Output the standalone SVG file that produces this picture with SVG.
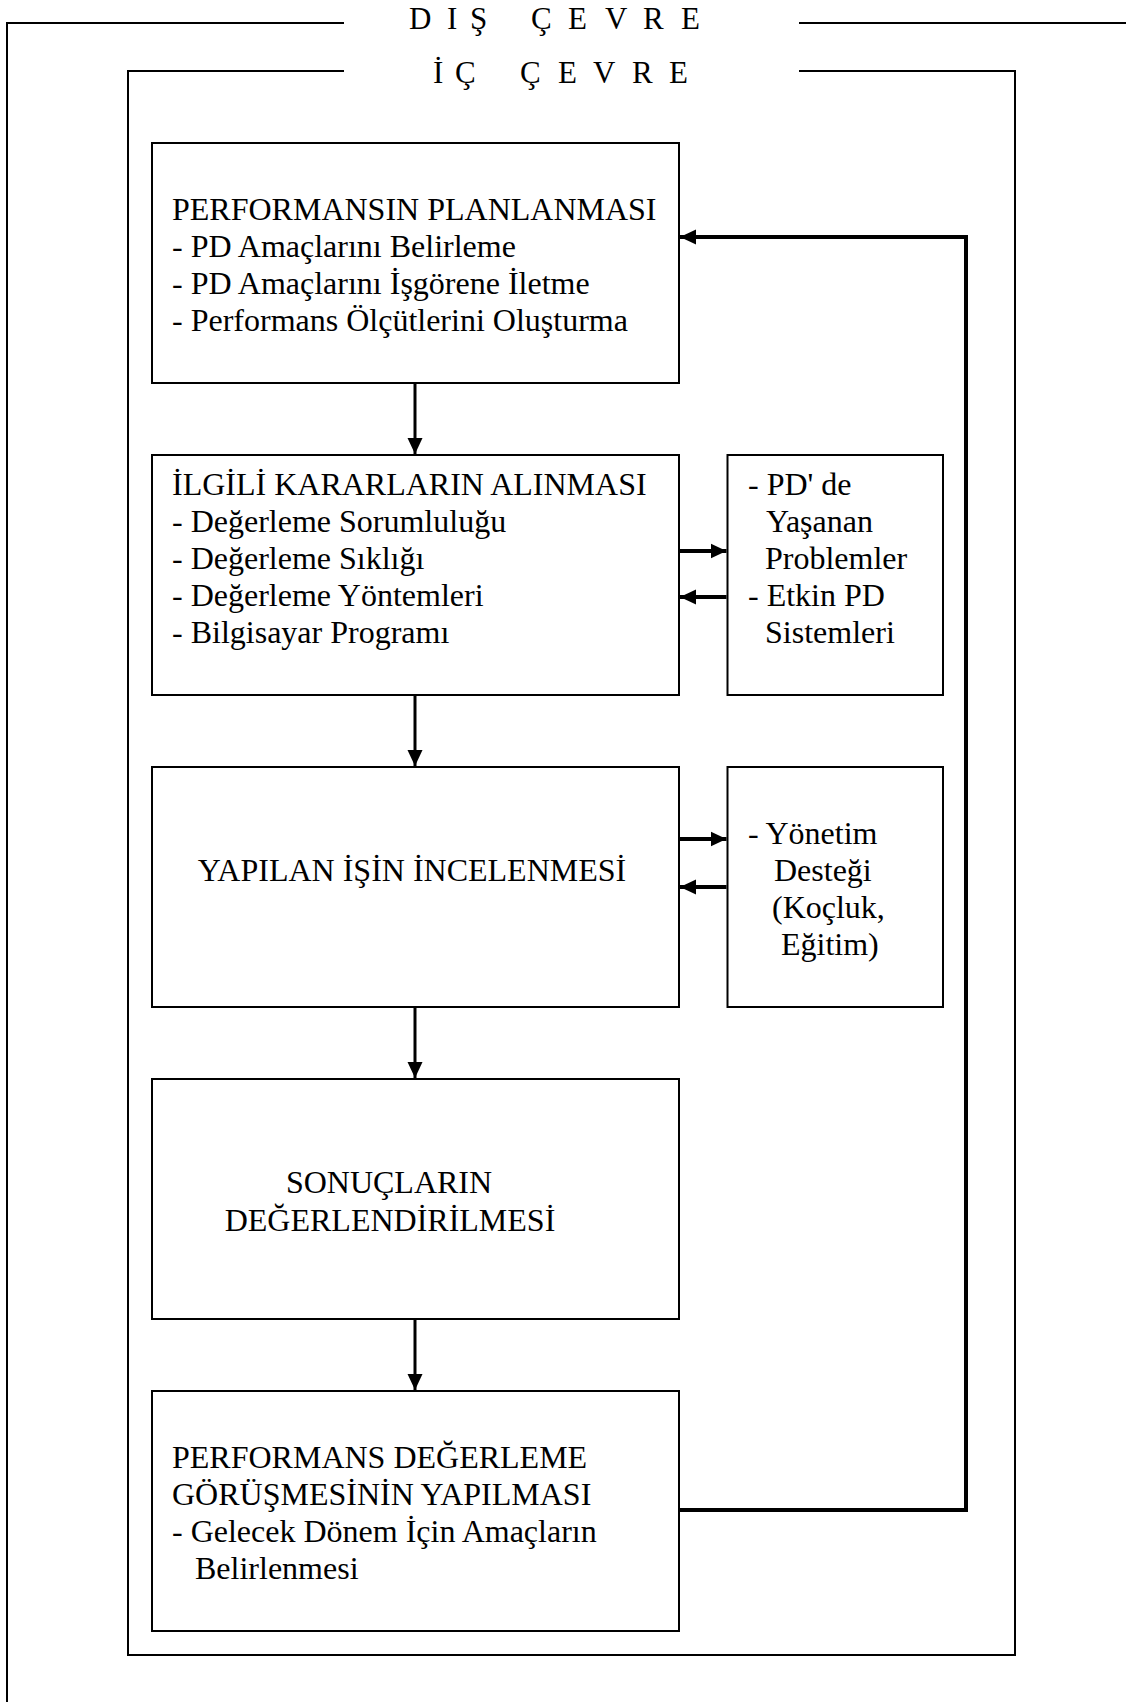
<svg xmlns="http://www.w3.org/2000/svg" width="1126" height="1702" viewBox="0 0 1126 1702">
<style>
.frame{fill:none;stroke:#000;stroke-width:2}
.box{fill:#fff;stroke:#000;stroke-width:2}
.t{font-family:"Liberation Serif","Times New Roman",serif;font-size:32px;fill:#000}
.h{font-family:"Liberation Serif","Times New Roman",serif;font-size:31px;fill:#000}
.c{text-anchor:middle}
.v{fill:none;stroke:#000;stroke-width:3}
.s{fill:none;stroke:#000;stroke-width:4}
</style>
<defs>
<marker id="ah" markerUnits="userSpaceOnUse" markerWidth="16" markerHeight="16" refX="16" refY="8" orient="auto">
<path d="M0,0.5 L16,8 L0,15.5 z" fill="#000"/>
</marker>
</defs>
<rect width="1126" height="1702" fill="#fff"/>
<g id="dis-cevre">
<path class="frame" d="M344,23 H7 V1702"/>
<path class="frame" d="M799,23 H1126"/>
<text class="h" x="409 447 470 500 531 568 605 643 681" y="29">DIŞ ÇEVRE</text>
</g>
<g id="ic-cevre">
<path class="frame" d="M344,71 H128 V1655 H1015 V71 H799"/>
<text class="h" x="433 455 490 520 558 593 632 669" y="83">İÇ ÇEVRE</text>
</g>
<g id="n1">
<rect class="box" x="152" y="143" width="527" height="240"/>
<text class="t" x="172" y="220">PERFORMANSIN PLANLANMASI</text>
<text class="t" x="172" y="257">- PD Amaçlarını Belirleme</text>
<text class="t" x="172" y="294">- PD Amaçlarını İşgörene İletme</text>
<text class="t" x="172" y="331">- Performans Ölçütlerini Oluşturma</text>
</g>
<g id="n2">
<rect class="box" x="152" y="455" width="527" height="240"/>
<text class="t" x="172" y="495">İLGİLİ KARARLARIN ALINMASI</text>
<text class="t" x="172" y="532">- Değerleme Sorumluluğu</text>
<text class="t" x="172" y="569">- Değerleme Sıklığı</text>
<text class="t" x="172" y="606">- Değerleme Yöntemleri</text>
<text class="t" x="172" y="643">- Bilgisayar Programı</text>
</g>
<g id="n2s">
<rect class="box" x="727.5" y="455" width="215.5" height="240"/>
<text class="t" x="748" y="495">- PD' de</text>
<text class="t" x="766" y="532">Yaşanan</text>
<text class="t" x="765" y="569">Problemler</text>
<text class="t" x="748" y="606">- Etkin PD</text>
<text class="t" x="765" y="643">Sistemleri</text>
</g>
<g id="n3">
<rect class="box" x="152" y="767" width="527" height="240"/>
<text class="t c" x="412" y="881">YAPILAN İŞİN İNCELENMESİ</text>
</g>
<g id="n3s">
<rect class="box" x="727.5" y="767" width="215.5" height="240"/>
<text class="t" x="748" y="844">- Yönetim</text>
<text class="t" x="774" y="881">Desteği</text>
<text class="t" x="772" y="918">(Koçluk,</text>
<text class="t" x="781" y="955">Eğitim)</text>
</g>
<g id="n4">
<rect class="box" x="152" y="1079" width="527" height="240"/>
<text class="t c" x="389" y="1193">SONUÇLARIN</text>
<text class="t c" x="390" y="1231">DEĞERLENDİRİLMESİ</text>
</g>
<g id="n5">
<rect class="box" x="152" y="1391" width="527" height="240"/>
<text class="t" x="172" y="1468">PERFORMANS DEĞERLEME</text>
<text class="t" x="172" y="1505">GÖRÜŞMESİNİN YAPILMASI</text>
<text class="t" x="172" y="1542">- Gelecek Dönem İçin Amaçların</text>
<text class="t" x="195" y="1579">Belirlenmesi</text>
</g>
<g id="connectors">
<path class="v" d="M415,384 V454" marker-end="url(#ah)"/>
<path class="v" d="M415,696 V766" marker-end="url(#ah)"/>
<path class="v" d="M415,1008 V1078" marker-end="url(#ah)"/>
<path class="v" d="M415,1320 V1390" marker-end="url(#ah)"/>
<path class="s" d="M680,551 H726.5" marker-end="url(#ah)"/>
<path class="s" d="M726.5,597 H680" marker-end="url(#ah)"/>
<path class="s" d="M680,839 H726.5" marker-end="url(#ah)"/>
<path class="s" d="M726.5,887 H680" marker-end="url(#ah)"/>
<path class="s" d="M680,1510 H966 V237 H680" marker-end="url(#ah)"/>
</g>
</svg>
